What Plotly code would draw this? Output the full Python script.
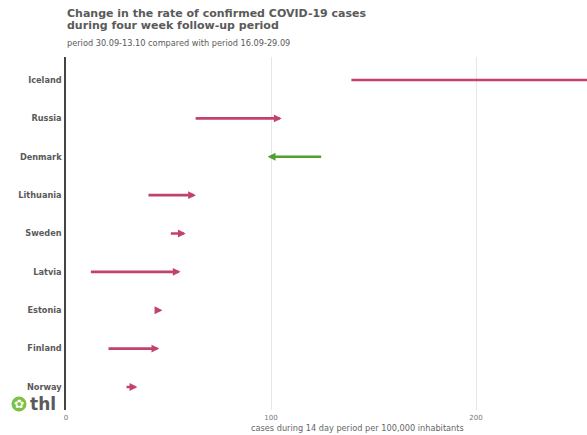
import plotly.graph_objects as go

countries = ["Iceland", "Russia", "Denmark", "Lithuania", "Sweden",
             "Latvia", "Estonia", "Finland", "Norway"]
rate_before = [138.5, 62.5, 125.2, 39.5, 50.4, 11.4, 43.0, 20.0, 28.8]
rate_after = [290.0, 105.2, 98.4, 63.4, 58.4, 55.9, 47.0, 45.5, 34.8]
x_ticks = [0, 100, 200]

PINK = "#c2426f"
GREEN = "#52a02e"
GRAY = "#5a5a5a"

W, H = 587, 435
ML, MR, MT, MB = 66, 0, 57, 25

fig = go.Figure()
# invisible trace to establish categories
fig.add_trace(go.Scatter(x=rate_before, y=countries, mode="markers",
                         marker=dict(opacity=0), hoverinfo="skip", showlegend=False))

for c, a, b in zip(countries, rate_before, rate_after):
    col = PINK if b >= a else GREEN
    fig.add_annotation(x=b, y=c, ax=a, ay=c, xref="x", yref="y", axref="x", ayref="y",
                       showarrow=True, arrowhead=2, arrowsize=0.6, arrowwidth=2.6,
                       arrowcolor=col, text="", standoff=0, startstandoff=0)

ph = H - MT - MB
pw = W - ML - MR
def px_x(p):
    return (p - ML) / pw
def px_y(p):
    return (H - MB - p) / ph

fig.update_layout(
    width=W, height=H,
    margin=dict(l=ML, r=MR, t=MT, b=MB),
    paper_bgcolor="white", plot_bgcolor="white",
    font=dict(family="DejaVu Sans", color=GRAY),
    showlegend=False,
    xaxis=dict(range=[0, (W - ML) / 2.05], tickvals=x_ticks, ticktext=[str(v) for v in x_ticks],
               showgrid=True, gridcolor="#e6e6e6", gridwidth=1, zeroline=False,
               showline=False, ticks="", tickfont=dict(size=7, color="#777777"),
               ticklabelstandoff=2, fixedrange=True),
    yaxis=dict(categoryorder="array", categoryarray=countries[::-1],
               range=[-0.6, 8.6], showgrid=False, zeroline=False,
               showline=True, linecolor="#444444", linewidth=1.5,
               ticks="", tickfont=dict(size=8.2, color=GRAY, family="DejaVu Sans", weight="bold"),
               ticklabelstandoff=1, fixedrange=True),
)

# title and subtitle
fig.add_annotation(text="<b>Change in the rate of confirmed COVID-19 cases</b>",
                   xref="paper", yref="paper", x=px_x(65), y=px_y(14), xanchor="left", yanchor="middle",
                   showarrow=False, align="left", font=dict(size=11, color=GRAY, family="DejaVu Sans"))
fig.add_annotation(text="<b>during four week follow-up period</b>",
                   xref="paper", yref="paper", x=px_x(65), y=px_y(25.5), xanchor="left", yanchor="middle",
                   showarrow=False, align="left", font=dict(size=11, color=GRAY, family="DejaVu Sans"))
fig.add_annotation(text="period 30.09-13.10 compared with period 16.09-29.09",
                   xref="paper", yref="paper", x=px_x(65), y=px_y(43), xanchor="left", yanchor="middle",
                   showarrow=False, font=dict(size=8.2, color=GRAY, family="DejaVu Sans"))
# x axis title
fig.add_annotation(text="cases during 14 day period per 100,000 inhabitants",
                   xref="paper", yref="paper", x=px_x(357), y=px_y(428), xanchor="center", yanchor="middle",
                   showarrow=False, font=dict(size=8.2, color="#666666", family="DejaVu Sans"))

# logo
fig.add_shape(type="circle", xref="paper", yref="paper",
              x0=px_x(11.5), x1=px_x(26.5), y0=px_y(411.5), y1=px_y(396.5),
              fillcolor="#7cc142", line=dict(width=0), layer="above")
fig.add_annotation(text="✿", xref="paper", yref="paper", x=px_x(19), y=px_y(404),
                   xanchor="center", yanchor="middle", showarrow=False,
                   font=dict(size=12, color="white", family="DejaVu Sans"))
fig.add_annotation(text="<b>thl</b>", xref="paper", yref="paper", x=px_x(28), y=px_y(404),
                   xanchor="left", yanchor="middle", showarrow=False,
                   font=dict(size=17, color=GRAY, family="DejaVu Sans"))

fig.write_html("out.html", config={"displayModeBar": False})
with open("out.html", encoding="utf-8") as f:
    html = f.read()
html = html.replace("<body>", '<body style="margin:0;padding:0;overflow:hidden">', 1)
with open("out.html", "w", encoding="utf-8") as f:
    f.write(html)
